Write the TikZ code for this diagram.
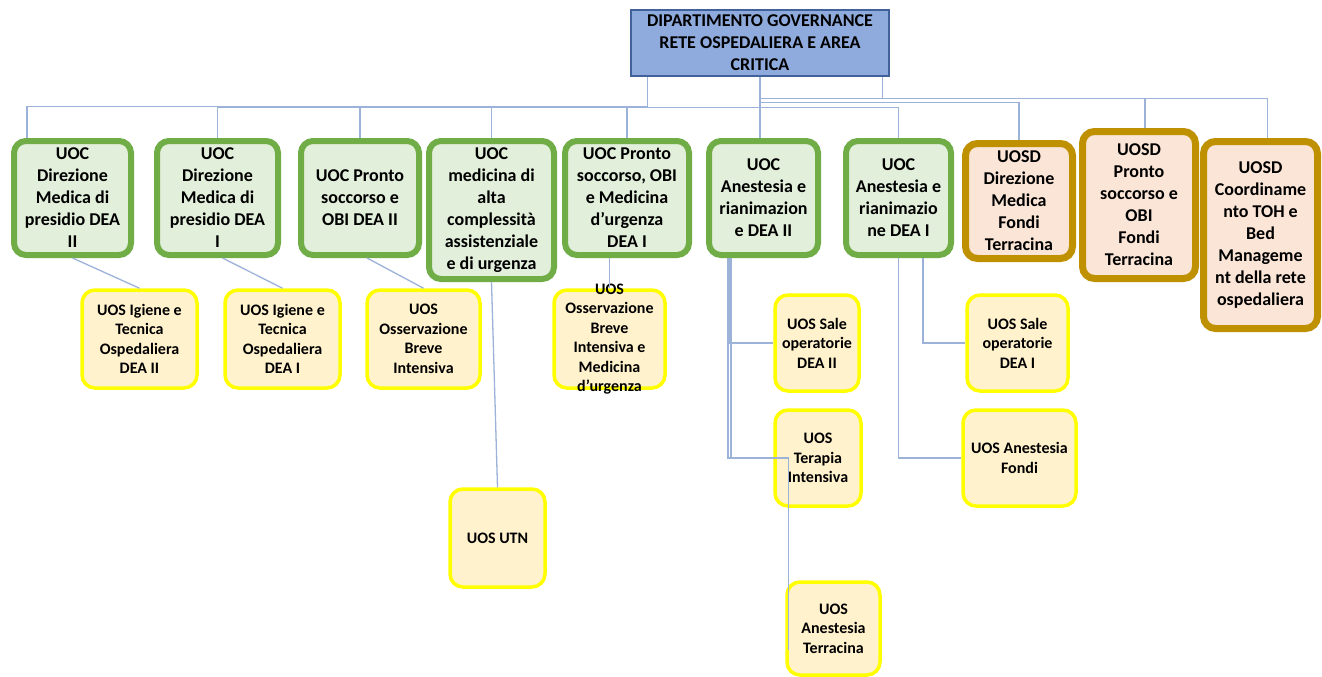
\documentclass[tikz,border=0pt]{standalone}
\usepackage{fontspec}
\setmainfont{Carlito}
\usepackage{xcolor}
\usepackage{tikz}
\usetikzlibrary{calc}
\definecolor{headfill}{HTML}{8FAADC}
\definecolor{headline}{HTML}{41619A}
\definecolor{uocfill}{HTML}{E2EFDA}
\definecolor{uocline}{HTML}{70AD47}
\definecolor{uosdfill}{HTML}{FBE5D6}
\definecolor{uosdline}{HTML}{BF9000}
\definecolor{uosfill}{HTML}{FFF2CC}
\definecolor{uosline}{HTML}{FFFF00}
\definecolor{linkc}{HTML}{9DB2D8}
\tikzset{
  head/.style={draw=headline, fill=headfill, line width=1.5pt, align=center, font=\bfseries\fontsize{18}{22}\selectfont},
  uoc/.style={draw=uocline, fill=uocfill, line width=6pt, rounded corners=12pt, minimum height=114pt, align=center, font=\bfseries\fontsize{18}{22}\selectfont},
  uosd/.style={draw=uosdline, fill=uosdfill, line width=7pt, rounded corners=12pt, align=center, font=\bfseries\fontsize{18}{22}\selectfont},
  uos/.style={draw=uosline, fill=uosfill, line width=3.5pt, rounded corners=13pt, minimum height=96pt, align=center, font=\bfseries\fontsize{16}{19.5}\selectfont},
  uostxt/.style={align=center, font=\bfseries\fontsize{16}{19.5}\selectfont},
  link/.style={draw=linkc, line width=1.3pt},
}

\begin{document}
\begin{tikzpicture}[x=1pt, y=-1pt]
  \path[use as bounding box, fill=white] (0,0) rectangle (1322,677);

  \node[head, minimum width=258pt, minimum height=66pt] (dip) at (760,43) {DIPARTIMENTO GOVERNANCE\\RETE OSPEDALIERA E AREA\\CRITICA};

  \node[uoc, minimum width=117pt] (uoc1) at (72.5,198) {UOC\\Direzione\\Medica di\\presidio DEA\\II};
  \node[uoc, minimum width=121pt] (uoc2) at (217.5,198) {UOC\\Direzione\\Medica di\\presidio DEA\\I};
  \node[uoc, minimum width=118pt] (uoc3) at (360,198) {UOC Pronto\\soccorso e\\OBI DEA II};
  \node[uoc, minimum width=125pt, minimum height=138pt] (uoc4) at (491.5,210) {UOC\\medicina di\\alta\\complessità\\assistenziale\\e di urgenza};
  \node[uoc, minimum width=124pt] (uoc5) at (627,198) {UOC Pronto\\soccorso, OBI\\e Medicina\\d’urgenza\\DEA I};
  \node[uoc, minimum width=109pt] (uoc6) at (763.5,198) {UOC\\Anestesia e\\rianimazion\\e DEA II};
  \node[uoc, minimum width=105pt] (uoc7) at (898.5,198) {UOC\\Anestesia e\\rianimazio\\ne DEA I};

  \node[uosd, minimum width=107pt, minimum height=115pt] (uosd1) at (1019,201) {UOSD\\Direzione\\Medica\\Fondi\\Terracina};
  \node[uosd, minimum width=113pt, minimum height=147pt] (uosd2) at (1139,205) {UOSD\\Pronto\\soccorso e\\OBI\\Fondi\\Terracina};
  \node[uosd, minimum width=114pt, minimum height=187pt] (uosd3) at (1260.5,235) {UOSD\\Coordiname\\nto TOH e\\Bed\\Manageme\\nt della rete\\ospedaliera};

  \node[uos, minimum width=115pt, minimum height=98pt] (uos1) at (139.5,339) {UOS Igiene e\\Tecnica\\Ospedaliera\\DEA II};
  \node[uos, minimum width=115pt, minimum height=98pt] (uos2) at (282.5,339) {UOS Igiene e\\Tecnica\\Ospedaliera\\DEA I};
  \node[uos, minimum width=113pt, minimum height=98pt] (uos3) at (423.5,339) {UOS\\Osservazione\\Breve\\Intensiva};
  \node[uos, minimum width=111pt, minimum height=98pt] (uos4) at (609.5,339) {};
  \node[uostxt] (uos4txt) at (uos4) {UOS\\Osservazione\\Breve\\Intensiva e\\Medicina\\d’urgenza};
  \node[uos, minimum width=95pt, minimum height=98pt] (uos5) at (497.5,538) {UOS UTN};
  \node[uos, minimum width=84pt] (uos6) at (817,343) {UOS Sale\\operatorie\\DEA II};
  \node[uos, minimum width=86pt] (uos7) at (818,458) {UOS\\Terapia\\Intensiva};
  \node[uos, minimum width=93pt, minimum height=93pt] (uos8) at (833.5,628.5) {UOS\\Anestesia\\Terracina};
  \node[uos, minimum width=101pt] (uos9) at (1017.5,343) {UOS Sale\\operatorie\\DEA I};
  \node[uos, minimum width=113pt] (uos10) at (1019.5,458) {UOS Anestesia\\Fondi};

  \draw[link] ([xshift=17pt]dip.south west) -- ++(0,30) -| ([xshift=16pt]uoc1.north west);
  \draw[link] (dip.south) -- ++(0,31) -| (uoc2.north);
  \draw[link] (dip.south) -- ++(0,31) -| (uoc3.north);
  \draw[link] (dip.south) -- ++(0,31) -| (uoc4.north);
  \draw[link] (dip.south) -- ++(0,31) -| (uoc5.north);
  \draw[link] (dip.south) -- (dip.south |- uoc6.north);
  \draw[link] (dip.south) -- ++(0,31) -| (uoc7.north);
  \draw[link] (dip.south) -- ++(0,26) -| (uosd1.north);
  \draw[link] (dip.south) -- ++(0,22) -| ([xshift=6pt]uosd2.north);
  \draw[link] ([xshift=-7pt]dip.south east) -- ++(0,22) -| ([xshift=7pt]uosd3.north);

  \draw[link] (uoc1.south) -- (uos1.north);
  \draw[link] ([xshift=5pt]uoc2.south) -- (uos2.north);
  \draw[link] ([xshift=7pt]uoc3.south) -- (uos3.north);
  \draw[link] (uoc4.south) -- (uos5.north);
  \draw[link] (uos4.north) -- (uos4.north |- uoc5.south);
  \draw[link] ([xshift=24pt]uoc6.south west) |- (uos6.west);
  \draw[link] ([xshift=22pt]uoc6.south west) |- (uos7.west);
  \draw[link] ([xshift=25pt]uoc6.south west) |- ([xshift=15pt]uos7.west) -- ++(0,192);
  \draw[link] ([xshift=80pt]uoc7.south west) |- (uos9.west);
  \draw[link] (uoc7.south) |- (uos10.west);
\end{tikzpicture}
\end{document}
